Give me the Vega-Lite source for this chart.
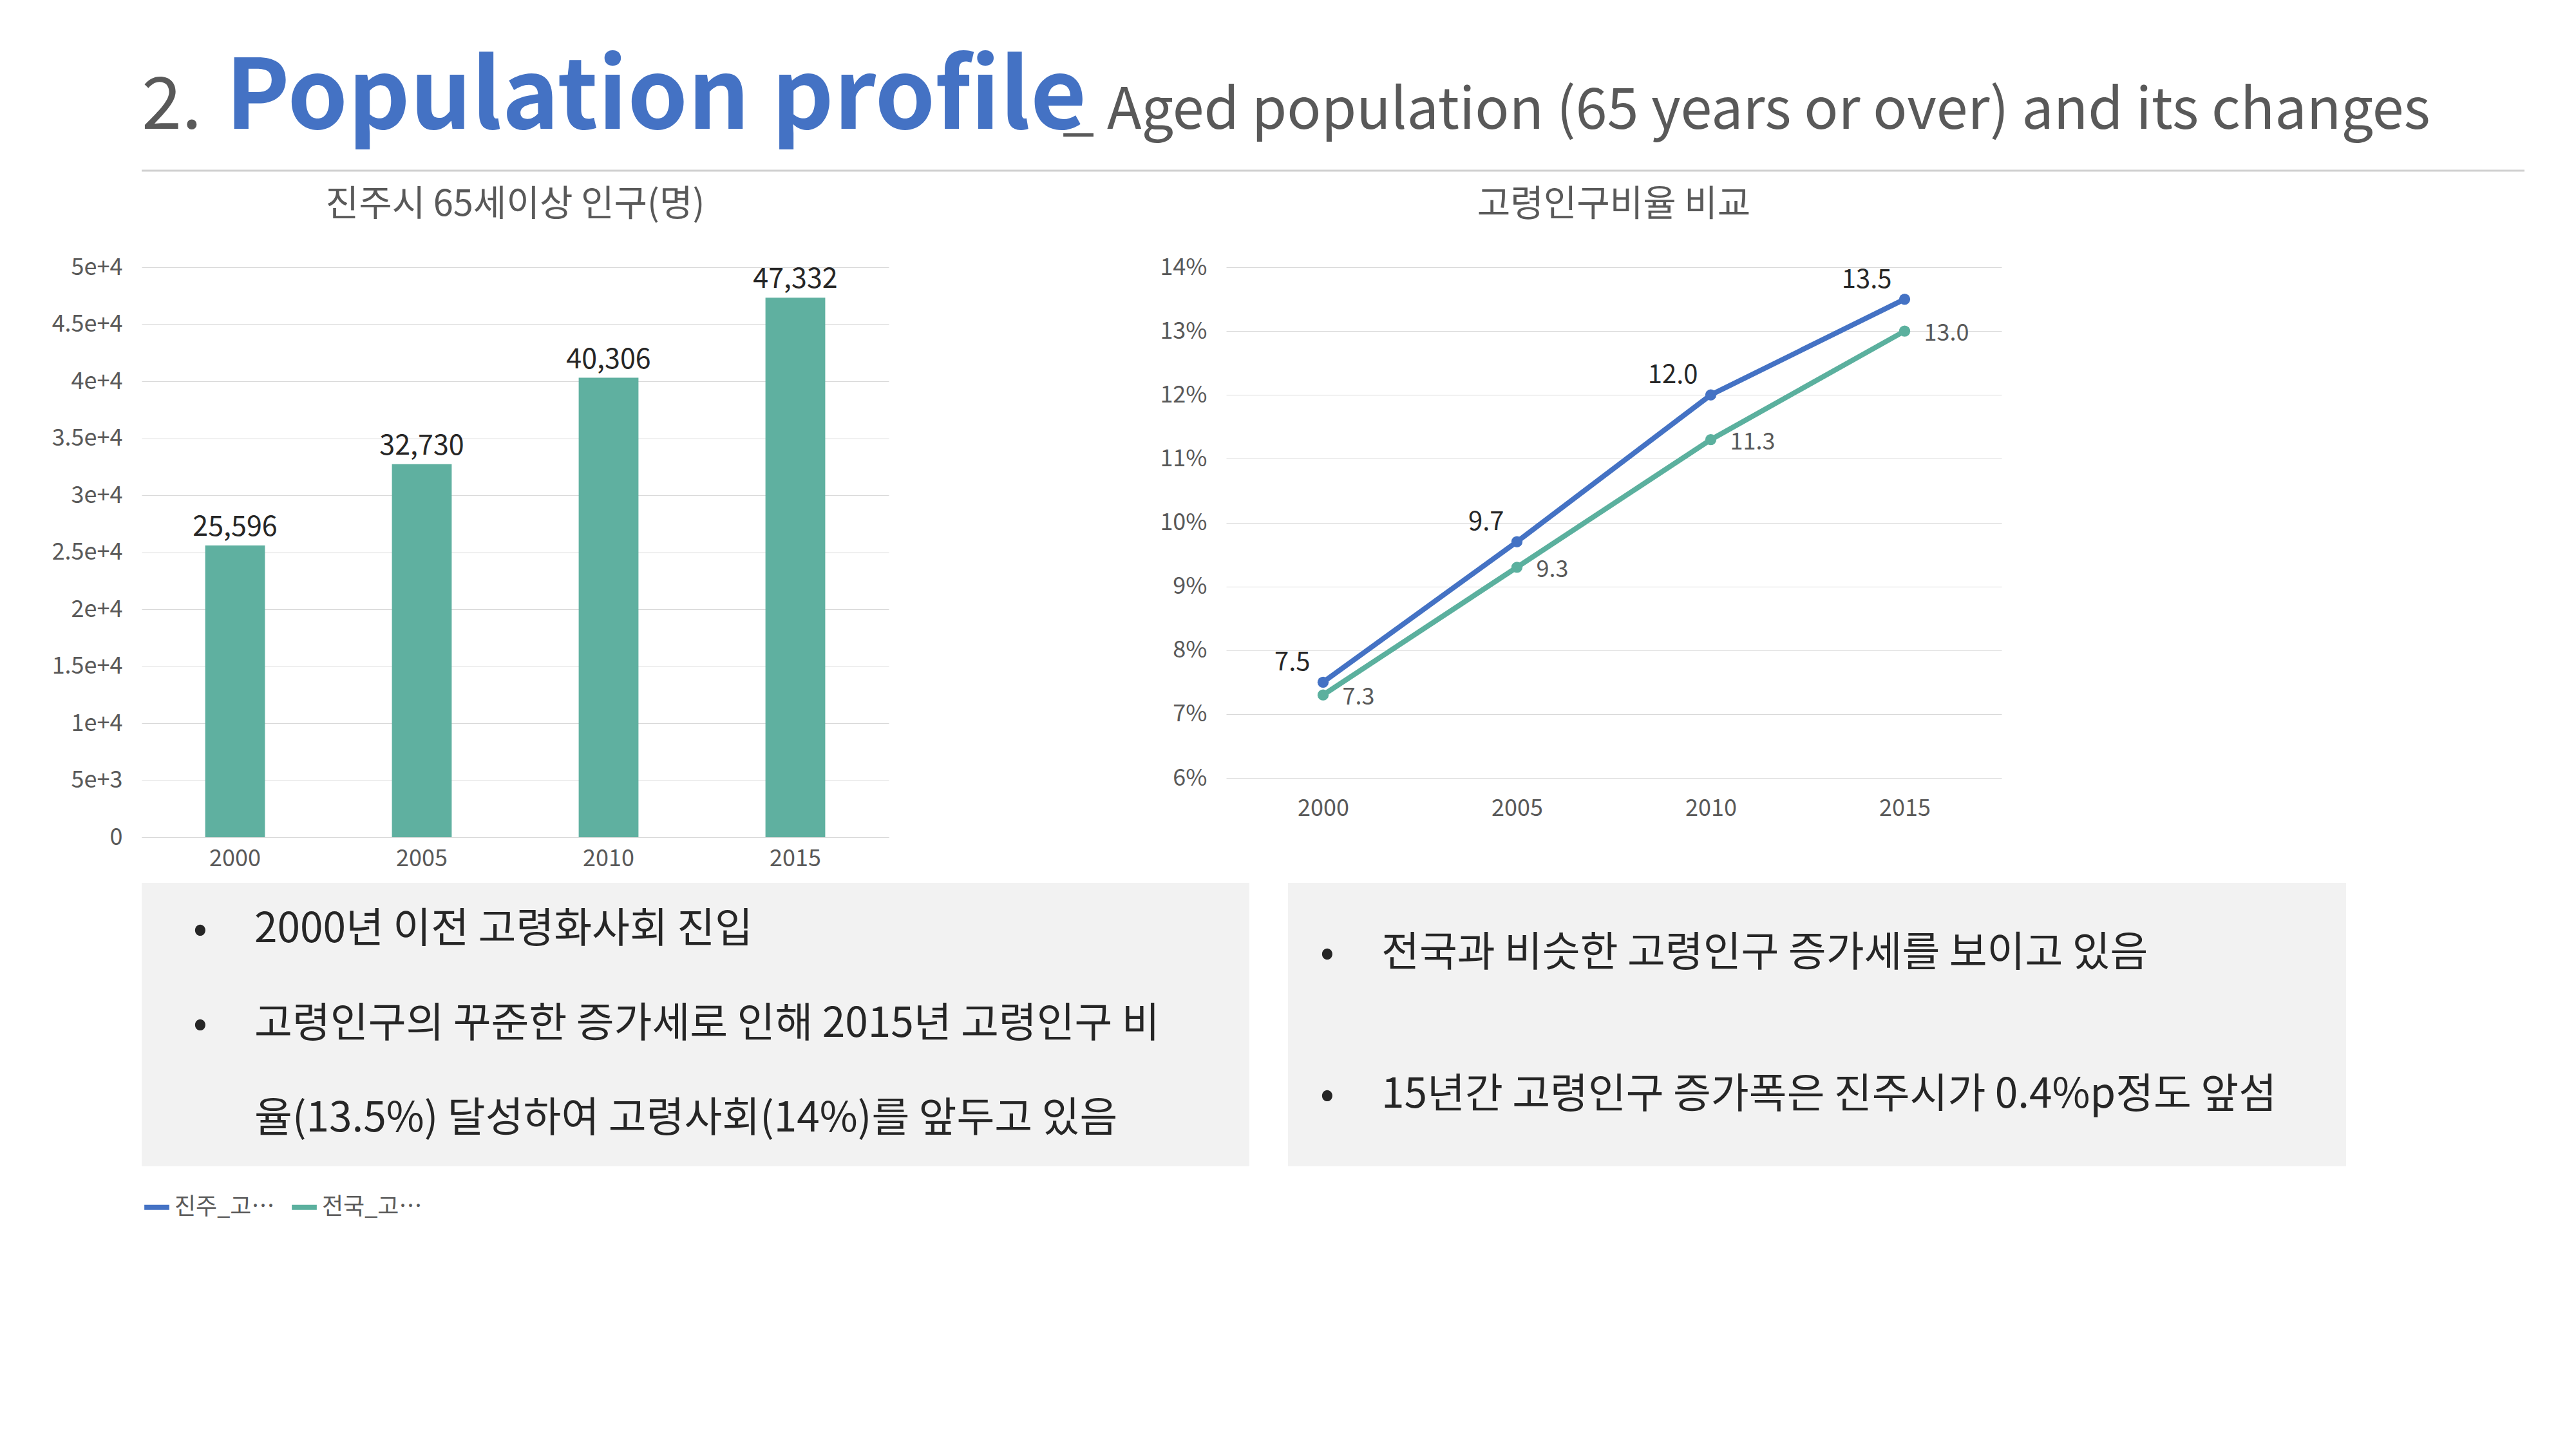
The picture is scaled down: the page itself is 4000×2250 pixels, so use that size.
{
  "$schema": "https://vega.github.io/schema/vega-lite/v6.json",
  "background": "white",
  "padding": {"left": 80, "top": 60, "right": 60, "bottom": 20},
  "config": {
    "font": "Noto Sans CJK KR",
    "view": {"stroke": null},
    "axis": {"labelFont": "Noto Sans CJK KR", "labelColor": "#595959", "labelFontSize": 36, "titleFont": "Noto Sans CJK KR"},
    "title": {"font": "Noto Sans CJK KR", "color": "#595959", "fontSize": 56, "fontWeight": "normal", "offset": 50}
  },
  "vconcat": [
    {
      "width": 3700,
      "height": 210,
      "data": {"values": [{"t": "2."}]},
      "layer": [
        {"mark": {"type": "text", "align": "left", "baseline": "alphabetic", "fontSize": 112, "color": "#595959"},
         "encoding": {"text": {"value": "2."}, "x": {"value": 0}, "y": {"value": 140}}},
        {"mark": {"type": "text", "align": "left", "baseline": "alphabetic", "fontSize": 150, "fontWeight": "bold", "color": "#4472c4", "dx": 130},
         "encoding": {"text": {"value": "Population profile"}, "x": {"value": 0}, "y": {"value": 140}}},
        {"mark": {"type": "text", "align": "left", "baseline": "alphabetic", "fontSize": 88, "color": "#595959", "dx": 1430},
         "encoding": {"text": {"value": "_ Aged population (65 years or over) and its changes"}, "x": {"value": 0}, "y": {"value": 140}}},
        {"mark": {"type": "rule", "color": "#d0d0d0", "strokeWidth": 3},
         "encoding": {"y": {"value": 205}, "x": {"value": 0}, "x2": {"value": 3700}}}
      ]
    },
    {
      "spacing": 420,
      "hconcat": [
        {
          "width": 1160,
          "height": 885,
          "title": "진주시 65세이상 인구(명)",
          "data": {"values": [
            {"year": "2000", "pop": 25596},
            {"year": "2005", "pop": 32730},
            {"year": "2010", "pop": 40306},
            {"year": "2015", "pop": 47332}
          ]},
          "encoding": {
            "x": {"field": "year", "type": "ordinal", "title": null, "scale": {"paddingInner": 0.68, "paddingOuter": 0.34}, "axis": {"labelAngle": 0, "ticks": false, "domainColor": "#d9d9d9", "labelPadding": 16}},
            "y": {"field": "pop", "type": "quantitative", "title": null, "scale": {"domain": [0, 50000]}, "axis": {"format": ",", "tickCount": 10, "ticks": false, "domain": false, "gridColor": "#d9d9d9", "labelPadding": 30}}
          },
          "layer": [
            {"mark": {"type": "bar", "color": "#5fb0a0"}},
            {"mark": {"type": "text", "dy": -28, "fontSize": 43, "color": "#262626"}, "encoding": {"text": {"field": "pop", "format": ","}}}
          ]
        },
        {
          "width": 1204,
          "height": 793,
          "title": "고령인구비율 비교",
          "data": {"values": [
            {"year": "2000", "s": "진주_고령인구비율", "r": 7.5},
            {"year": "2005", "s": "진주_고령인구비율", "r": 9.7},
            {"year": "2010", "s": "진주_고령인구비율", "r": 12.0},
            {"year": "2015", "s": "진주_고령인구비율", "r": 13.5},
            {"year": "2000", "s": "전국_고령인구비율", "r": 7.3},
            {"year": "2005", "s": "전국_고령인구비율", "r": 9.3},
            {"year": "2010", "s": "전국_고령인구비율", "r": 11.3},
            {"year": "2015", "s": "전국_고령인구비율", "r": 13.0}
          ]},
          "encoding": {
            "x": {"field": "year", "type": "ordinal", "title": null, "scale": {"type": "point", "padding": 0.5}, "axis": {"labelAngle": 0, "ticks": false, "domain": false, "labelPadding": 30}},
            "y": {"field": "r", "type": "quantitative", "title": null, "scale": {"domain": [6, 14]}, "axis": {"tickCount": 8, "labelExpr": "datum.value + '%'", "ticks": false, "domain": false, "gridColor": "#d9d9d9", "labelPadding": 30}}
          },
          "layer": [
            {"mark": {"type": "line", "strokeWidth": 8, "point": {"size": 300, "filled": true}},
             "encoding": {"color": {"field": "s", "type": "nominal", "sort": ["진주_고령인구비율", "전국_고령인구비율"], "scale": {"domain": ["진주_고령인구비율", "전국_고령인구비율"], "range": ["#4472c4", "#5bb09e"]},
              "legend": {"orient": "bottom", "title": null, "labelFontSize": 36, "labelColor": "#595959", "symbolType": "stroke", "symbolStrokeWidth": 8, "symbolSize": 1500, "offset": 40}}}},
            {"transform": [{"filter": "datum.s == '진주_고령인구비율'"}],
             "mark": {"type": "text", "align": "right", "dx": -20, "dy": -30, "fontSize": 40, "color": "#262626"},
             "encoding": {"text": {"field": "r", "type": "quantitative", "format": ".1f"}}},
            {"transform": [{"filter": "datum.s == '전국_고령인구비율'"}],
             "mark": {"type": "text", "align": "left", "dx": 30, "dy": 4, "fontSize": 36, "color": "#595959"},
             "encoding": {"text": {"field": "r", "type": "quantitative", "format": ".1f"}}}
          ]
        }
      ]
    },
    {
      "spacing": 60,
      "hconcat": [
        {
          "width": 1720, "height": 440,
          "view": {"fill": "#f2f2f2"},
          "data": {"values": [
            {"line": 1, "b": "•", "t": "2000년 이전 고령화사회 진입"},
            {"line": 2, "b": "•", "t": "고령인구의 꾸준한 증가세로 인해 2015년 고령인구 비"},
            {"line": 3, "b": "", "t": "율(13.5%) 달성하여 고령사회(14%)를 앞두고 있음"}
          ]},
          "encoding": {"y": {"field": "line", "type": "ordinal", "axis": null, "scale": {"paddingOuter": 0.3}}},
          "layer": [
            {"mark": {"type": "text", "align": "left", "fontSize": 64, "color": "#262626"}, "encoding": {"text": {"field": "b", "type": "nominal"}, "x": {"value": 80}}},
            {"mark": {"type": "text", "align": "left", "fontSize": 64, "color": "#262626"}, "encoding": {"text": {"field": "t", "type": "nominal"}, "x": {"value": 175}}}
          ]
        },
        {
          "width": 1643, "height": 440,
          "view": {"fill": "#f2f2f2"},
          "data": {"values": [
            {"line": 1, "b": "•", "t": "전국과 비슷한 고령인구 증가세를 보이고 있음"},
            {"line": 2, "b": "•", "t": "15년간 고령인구 증가폭은 진주시가 0.4%p정도 앞섬"}
          ]},
          "encoding": {"y": {"field": "line", "type": "ordinal", "axis": null, "scale": {"paddingOuter": 0.5}}},
          "layer": [
            {"mark": {"type": "text", "align": "left", "fontSize": 64, "color": "#262626"}, "encoding": {"text": {"field": "b", "type": "nominal"}, "x": {"value": 50}}},
            {"mark": {"type": "text", "align": "left", "fontSize": 64, "color": "#262626"}, "encoding": {"text": {"field": "t", "type": "nominal"}, "x": {"value": 145}}}
          ]
        }
      ]
    }
  ]
}
